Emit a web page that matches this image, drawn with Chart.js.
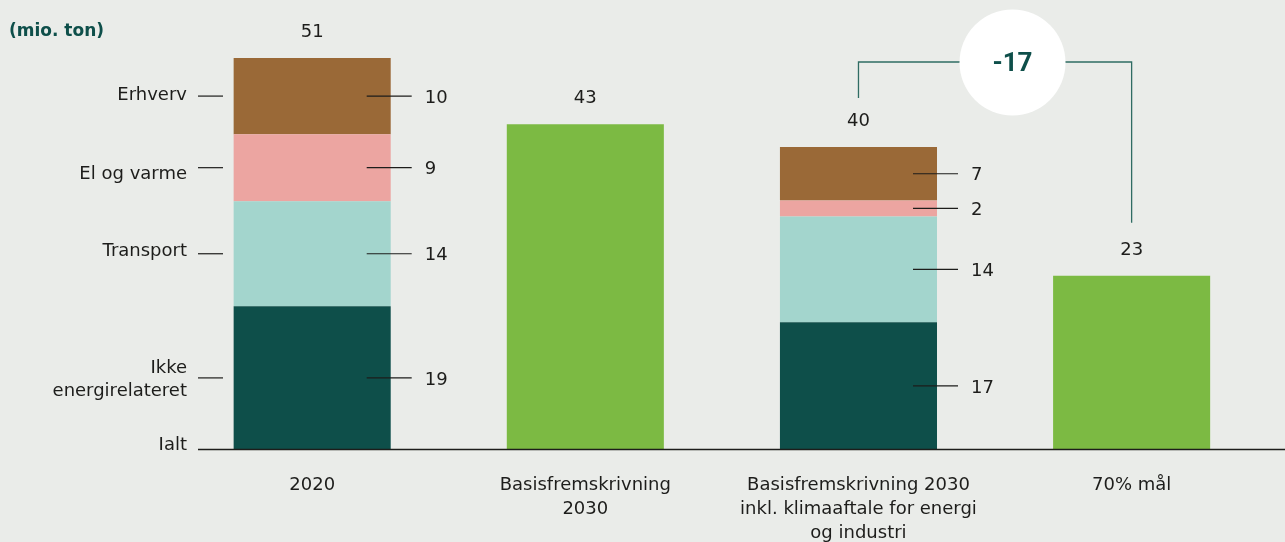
<!DOCTYPE html>
<html>
<head>
<meta charset="utf-8">
<script src="https://cdn.jsdelivr.net/npm/chart.js@4"></script>
<style>
  html, body { margin: 0; padding: 0; background: #eaece9; }
  #wrap { width: 1285px; height: 542px; position: relative; }
</style>
</head>
<body>
<div id="wrap"><canvas id="c" width="1285" height="542"></canvas></div>
<script>
// ---- data (mio. ton CO2e) ----
const categories = [
  ["2020"],
  ["Basisfremskrivning", "2030"],
  ["Basisfremskrivning 2030", "inkl. klimaaftale for energi", "og industri"],
  ["70% mål"]
];
const seriesNames = ["Ikke energirelateret", "Transport", "El og varme", "Erhverv"];
const ikkeEnergi = [18.8, null, 16.7, null];
const transport  = [13.8, null, 13.9, null];
const elOgVarme  = [8.8,  null, 2.1,  null];
const erhverv    = [10.0, null, 7.0,  null];
const totalOnly  = [null, 42.7, null, 22.8];
const leftLabels = [["Ikke", "energirelateret"], ["Transport"], ["El og varme"], ["Erhverv"]];
const baseLabel = "Ialt";
const unitLabel = "(mio. ton)";

const FONT = "'DejaVu Sans', sans-serif";
const TXT = "#1d1d1b";
const DARK = "#0e4f4a";
const colors = ["#0e4f4a", "#a3d5cd", "#eca5a1", "#9a6937", "#7cba43"];

const componentData = [ikkeEnergi, transport, elOgVarme, erhverv];
const totals = categories.map((_, i) => {
  if (totalOnly[i] != null) return totalOnly[i];
  return componentData.reduce((s, arr) => s + (arr[i] || 0), 0);
});

const datasets = componentData.map((d, k) => ({
  label: seriesNames[k], data: d, backgroundColor: colors[k], borderWidth: 0
}));
datasets.push({ label: "I alt", data: totalOnly, backgroundColor: colors[4], borderWidth: 0 });

const annot = {
  id: 'annot',
  beforeDraw(chart) {
    const ctx = chart.ctx;
    ctx.save();
    ctx.fillStyle = '#eaece9';
    ctx.fillRect(0, 0, chart.width, chart.height);
    ctx.restore();
  },
  afterDatasetsDraw(chart) {
    const ctx = chart.ctx;
    const xs = chart.scales.x, ys = chart.scales.y;
    const y0 = ys.getPixelForValue(0);
    ctx.save();

    // baseline
    ctx.strokeStyle = '#1d1d1b';
    ctx.lineWidth = 1.5;
    ctx.beginPath(); ctx.moveTo(198, y0); ctx.lineTo(chart.width, y0); ctx.stroke();

    // unit label
    ctx.fillStyle = DARK;
    ctx.font = "bold 17px " + FONT;
    ctx.textAlign = 'left'; ctx.textBaseline = 'middle';
    ctx.fillText(unitLabel, 9, 32);

    // leader lines + segment values for stacked bars
    ctx.font = "18px " + FONT;
    const leftOffsets = [2, -2, 7, -1];
    for (let k = 0; k < componentData.length; k++) {
      const meta = chart.getDatasetMeta(k);
      meta.data.forEach((bar, i) => {
        const v = componentData[k][i];
        if (v == null) return;
        const right = bar.x + bar.width / 2;
        const mid = (bar.y + bar.base) / 2;
        ctx.strokeStyle = '#1d1d1b'; ctx.lineWidth = 1.2;
        ctx.beginPath(); ctx.moveTo(right - 24, mid); ctx.lineTo(right + 21, mid); ctx.stroke();
        ctx.fillStyle = TXT; ctx.textAlign = 'left'; ctx.textBaseline = 'middle';
        ctx.fillText(String(Math.round(v)), right + 34, mid + 2);
        if (i === 0) {
          // left legend labels
          ctx.beginPath(); ctx.moveTo(198, mid); ctx.lineTo(223, mid); ctx.stroke();
          ctx.textAlign = 'right';
          const lines = leftLabels[k];
          const lh = 23;
          const cy = mid + leftOffsets[k];
          lines.forEach((t, j) => {
            ctx.fillText(t, 187, cy + (j - (lines.length - 1) / 2) * lh);
          });
        }
      });
    }
    // Ialt
    ctx.textAlign = 'right'; ctx.fillStyle = TXT;
    ctx.fillText(baseLabel, 187, y0 - 4);

    // totals above bars
    ctx.textAlign = 'center';
    totals.forEach((t, i) => {
      const yt = ys.getPixelForValue(t);
      ctx.fillText(String(Math.round(t)), xs.getPixelForValue(i), yt - 26);
    });

    // bracket with difference between bar 3 and bar 4
    const xa = xs.getPixelForValue(2), xb = xs.getPixelForValue(3);
    const ta = ys.getPixelForValue(totals[2]), tb = ys.getPixelForValue(totals[3]);
    const yTop = 62, cx = 1012.5, r = 53;
    ctx.strokeStyle = '#2f6c63'; ctx.lineWidth = 1.3;
    ctx.beginPath();
    ctx.moveTo(xa, ta - 49); ctx.lineTo(xa, yTop); ctx.lineTo(xb, yTop); ctx.lineTo(xb, tb - 53);
    ctx.stroke();
    ctx.fillStyle = '#ffffff';
    ctx.beginPath(); ctx.arc(cx, yTop + 0.5, r, 0, Math.PI * 2); ctx.fill();
    ctx.fillStyle = DARK;
    ctx.font = "bold 26px Roboto, sans-serif";
    ctx.textAlign = 'center'; ctx.textBaseline = 'middle';
    const diff = Math.round(totals[3] - totals[2]);
    ctx.fillText(String(diff), cx, yTop + 2);
    ctx.restore();
  }
};

new Chart(document.getElementById('c'), {
  type: 'bar',
  data: { labels: categories, datasets },
  options: {
    responsive: false,
    animation: false,
    devicePixelRatio: 1,
    layout: { padding: { top: 58, left: 175.6, right: 16.8, bottom: 0 } },
    plugins: { legend: { display: false }, tooltip: { enabled: false } },
    datasets: { bar: { barPercentage: 0.575, categoryPercentage: 1.0 } },
    scales: {
      x: {
        stacked: true,
        grid: { display: false, drawTicks: false },
        border: { display: false },
        ticks: {
          color: TXT, padding: 23.5, maxRotation: 0, autoSkip: false,
          font: { family: FONT, size: 18, lineHeight: 1.3333 }
        },
        afterFit(scale) { scale.height = 92.5; }
      },
      y: { stacked: true, display: false, min: 0, max: 51.4 }
    }
  },
  plugins: [annot]
});
</script>
</body>
</html>
